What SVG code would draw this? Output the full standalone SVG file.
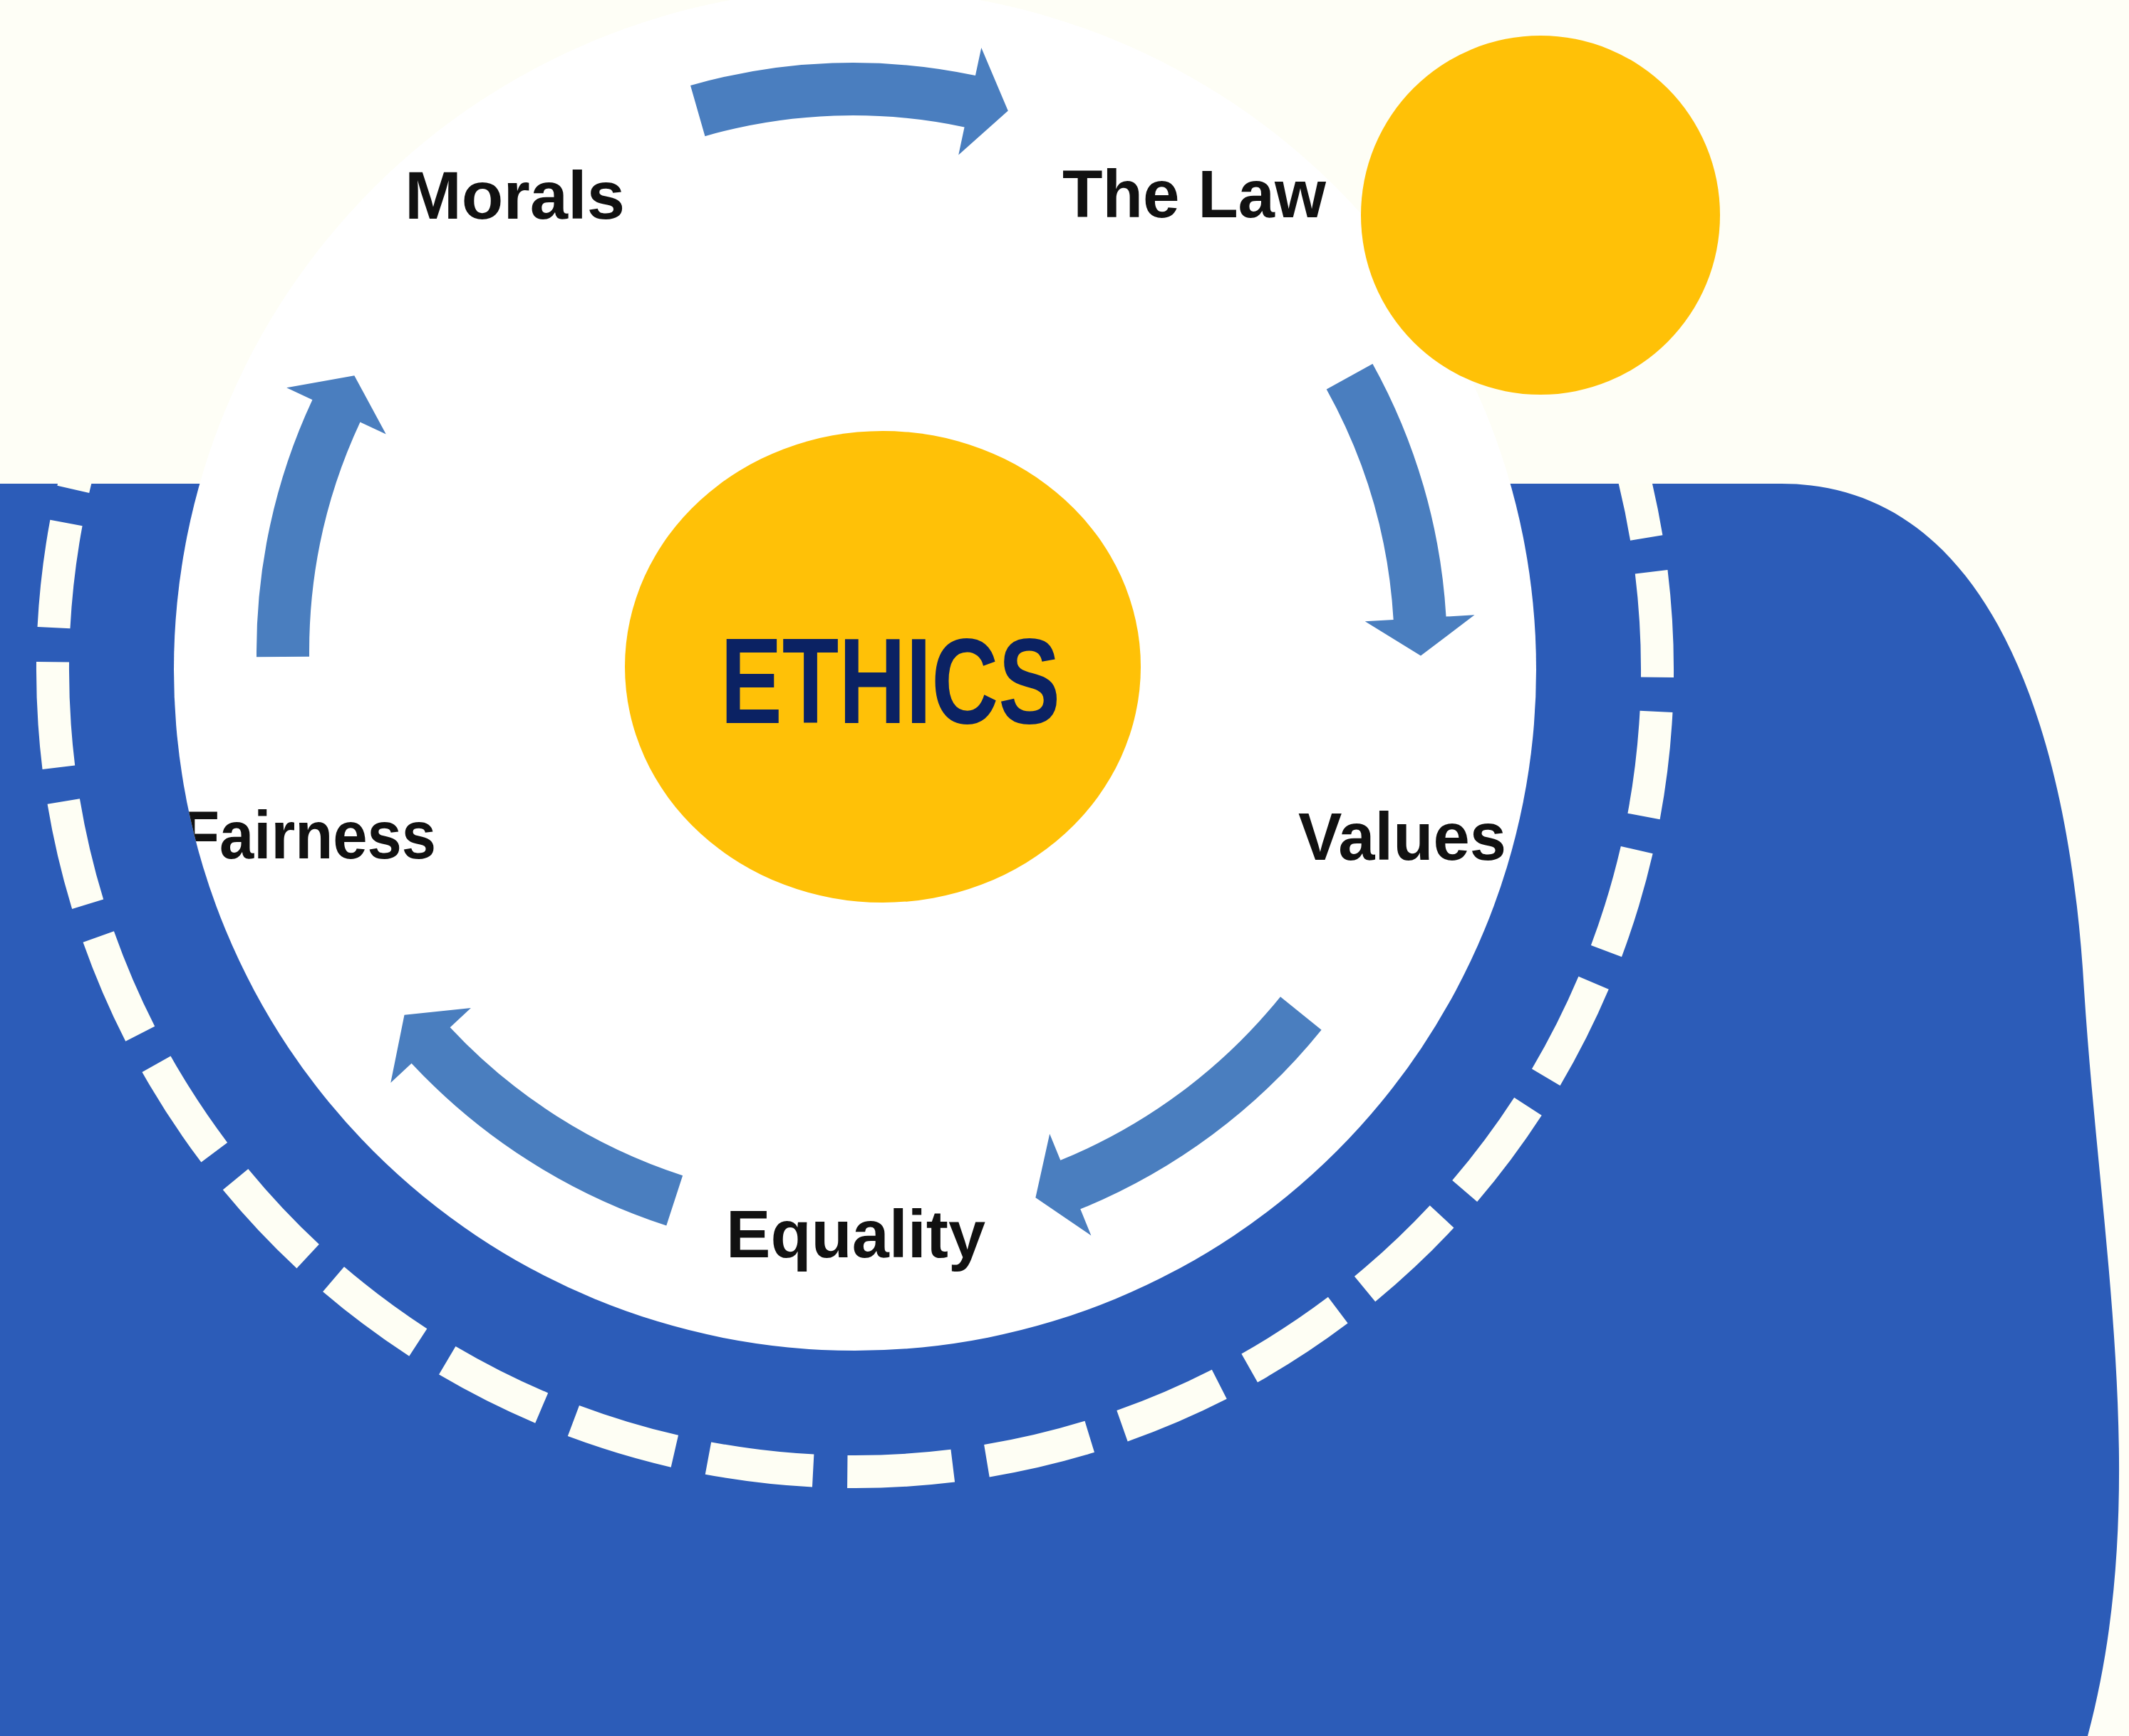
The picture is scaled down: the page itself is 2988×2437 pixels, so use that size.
<svg xmlns="http://www.w3.org/2000/svg" width="2988" height="2437" viewBox="0 0 2988 2437">
  <style>
    .bg { fill: #FEFEF6; }
    .blue { fill: #2C5CB8; }
    .ring { fill: none; stroke: #FEFEF4; stroke-width: 46; stroke-dasharray: 0.755 0.245; }
    .disc { fill: #FFFFFF; }
    .gold { fill: #FFC107; }
    .label { font-family: "Liberation Sans", Arial, sans-serif; font-weight: 700; font-size: 95px; fill: #111111; }
    .title { font-family: "Liberation Sans", Arial, sans-serif; font-weight: 700; font-size: 170px; fill: #0B2263; }
    .arrow { fill: #4A7EBF; }
  </style>
  <defs>
    <clipPath id="blueClip">
      <path d="M0,679 L2500,679 C2800,679 2905,1040 2925,1390 C2948,1750 3020,2100 2930,2437 L0,2437 Z"/>
    </clipPath>
    <clipPath id="discClip">
      <circle cx="1200" cy="940" r="956"/>
    </clipPath>
  </defs>

  <rect class="bg" x="0" y="0" width="2988" height="2437"/>

  <g id="background-wave">
    <path class="blue" d="M0,679 L2500,679 C2800,679 2905,1040 2925,1390 C2948,1750 3020,2100 2930,2437 L0,2437 Z"/>
    <path class="ring" clip-path="url(#blueClip)" pathLength="36" d="M1141.17,2064.5 A1125,1125 0 1 1 1258.83,-184.5 A1125,1125 0 1 1 1141.17,2064.5"/>
  </g>

  <g id="cycle-disc">
    <circle class="disc" cx="1200" cy="940" r="956"/>
  </g>

  <g id="sun">
    <circle class="gold" cx="2162" cy="302" r="252"/>
  </g>

  <g id="node-ethics">
    <ellipse class="gold" cx="1239" cy="936" rx="362" ry="331"/>
    <text class="title" x="1011" y="1015" textLength="477" lengthAdjust="spacingAndGlyphs">ETHICS</text>
  </g>

  <g clip-path="url(#discClip)">
    <g id="node-morals">
      <text class="label" x="568" y="307" textLength="309" lengthAdjust="spacingAndGlyphs">Morals</text>
    </g>
    <g id="node-the-law">
      <text class="label" x="1491" y="305" textLength="370" lengthAdjust="spacingAndGlyphs">The Law</text>
    </g>
    <g id="node-values">
      <text class="label" x="1822" y="1207" textLength="292" lengthAdjust="spacingAndGlyphs">Values</text>
    </g>
    <g id="node-equality">
      <text class="label" x="1019" y="1765" textLength="364" lengthAdjust="spacingAndGlyphs">Equality</text>
    </g>
    <g id="node-fairness">
      <text class="label" x="255" y="1205" textLength="357" lengthAdjust="spacingAndGlyphs">Fairness</text>
    </g>
  </g>

  <g id="connectors">
    <path class="arrow" d="M969.05,120.04 A827,827 0 0 1 1368.94,106.07 L1377.26,66.94 L1414.76,155.60 L1345.24,217.58 L1353.56,178.45 A753,753 0 0 0 989.44,191.17 Z"/>
    <path class="arrow" d="M1926.43,510.67 A834,834 0 0 1 2029.53,865.54 L2069.46,863.16 L1993.98,920.56 L1915.73,872.30 L1955.66,869.92 A760,760 0 0 0 1861.71,546.54 Z"/>
    <path class="arrow" d="M1854.61,1445.63 A845,845 0 0 1 1516.27,1697.36 L1531.39,1734.39 L1453.38,1681.24 L1473.20,1591.81 L1488.31,1628.85 A771,771 0 0 0 1797.02,1399.16 Z"/>
    <path class="arrow" d="M935.26,1720.55 A847,847 0 0 1 577.55,1492.65 L548.29,1519.93 L567.51,1424.75 L660.92,1414.91 L631.67,1442.19 A773,773 0 0 0 958.13,1650.17 Z"/>
    <path class="arrow" d="M360.03,922.31 A837,837 0 0 1 438.42,561.27 L402.17,544.36 L497.30,527.15 L541.74,609.45 L505.49,592.54 A763,763 0 0 0 434.03,921.66 Z"/>
  </g>
</svg>
